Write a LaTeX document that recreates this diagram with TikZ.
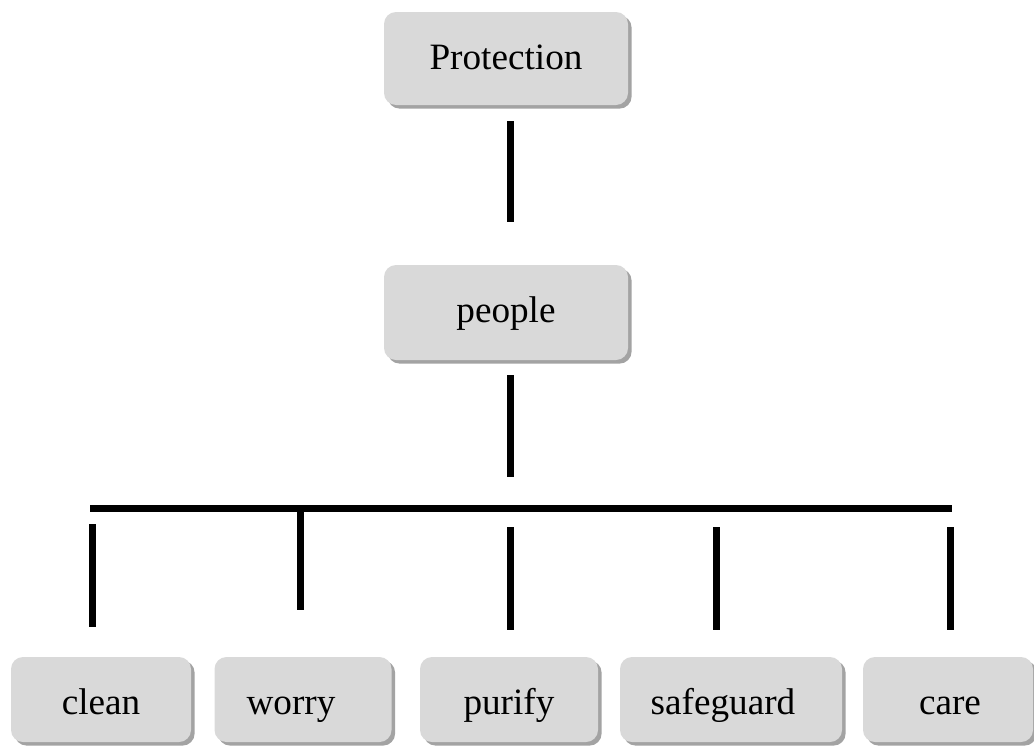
\documentclass[tikz,border=0pt]{standalone}
\usepackage{fontspec}
\setmainfont{Liberation Serif}
\usetikzlibrary{shadows}
\definecolor{boxfill}{HTML}{D9D9D9}
\definecolor{boxshadow}{HTML}{A3A3A3}
\tikzset{
  box/.style={rectangle, rounded corners=6pt, fill=boxfill, draw=none,
    font=\fontsize{18.6}{20}\selectfont, text=black, inner sep=0pt,
    drop shadow={shadow xshift=1.8pt, shadow yshift=-1.8pt, fill=boxshadow, opacity=1}},
  topbox/.style={box, minimum width=122pt, text height=14pt},
  leafbox/.style={box, minimum height=42.5pt, text height=18pt, text depth=3.5pt},
  link/.style={line width=3.5pt, black}
}
\begin{document}
\begin{tikzpicture}[x=0.5pt,y=-0.5pt]
\useasboundingbox (0,0) rectangle (1034,750);
% nodes
\node[topbox, minimum height=46.5pt, text depth=3.5pt] (prot) at (506,58.5) {Protection};
\node[topbox, minimum height=47.5pt, text depth=4.5pt] (peop) at (506,312.5) {people};
\node[leafbox, minimum width=90pt] (clean) at (101,699.5) {clean};
\node[leafbox, minimum width=88.5pt] (worry) at (303,699.5) {worry\hspace*{12pt}};
\node[leafbox, minimum width=89pt] (purify) at (509,699.5) {purify};
\node[leafbox, minimum width=111pt] (safe) at (731,699.5) {safeguard\hspace*{8pt}};
\node[leafbox, minimum width=85pt] (care) at (948,699.5) {\hspace*{2pt}care};
% connector end points
\coordinate (a1) at (510,121); \coordinate (a2) at (510,222);
\coordinate (b1) at (510,375); \coordinate (b2) at (510,477);
\coordinate (hl) at (90,508); \coordinate (hr) at (952,508);
\coordinate (c1) at (92,524); \coordinate (c2) at (92,627);
\coordinate (w1) at (300,508); \coordinate (w2) at (300,610);
\coordinate (p1) at (510,527); \coordinate (p2) at (510,630);
\coordinate (s1) at (716,527); \coordinate (s2) at (716,630);
\coordinate (r1) at (950,527); \coordinate (r2) at (950,630);
% connectors
\draw[link] (a1) -- (a2);
\draw[link] (b1) -- (b2);
\draw[link] (hl) -- (hr);
\draw[link] (c1) -- (c2);
\draw[link] (w1) -- (w2);
\draw[link] (p1) -- (p2);
\draw[link] (s1) -- (s2);
\draw[link] (r1) -- (r2);
\end{tikzpicture}
\end{document}
